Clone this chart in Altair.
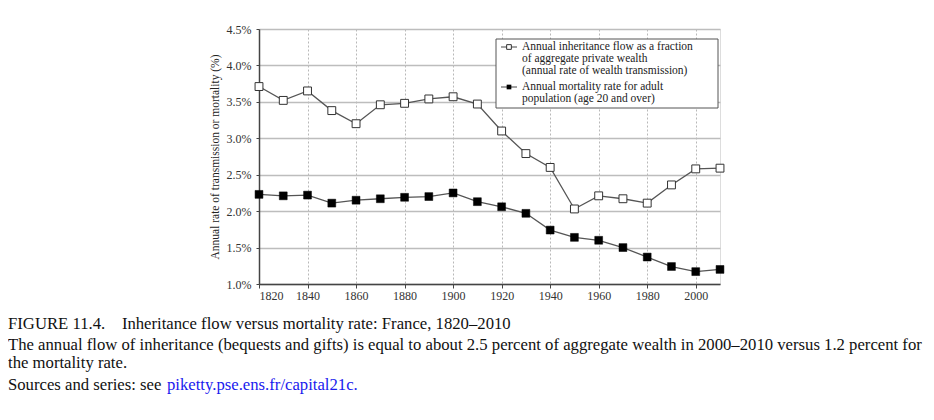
import altair as alt
import pandas as pd

years = [1820, 1830, 1840, 1850, 1860, 1870, 1880, 1890, 1900, 1910,
         1920, 1930, 1940, 1950, 1960, 1970, 1980, 1990, 2000, 2010]
inheritance = [3.71, 3.52, 3.65, 3.38, 3.20, 3.46, 3.48, 3.54, 3.57, 3.47,
               3.10, 2.79, 2.60, 2.03, 2.21, 2.17, 2.11, 2.36, 2.58, 2.59]
mortality = [2.23, 2.21, 2.22, 2.11, 2.15, 2.17, 2.19, 2.20, 2.25, 2.13,
             2.06, 1.97, 1.74, 1.64, 1.60, 1.50, 1.37, 1.24, 1.17, 1.20]
x_ticks = [1820, 1840, 1860, 1880, 1900, 1920, 1940, 1960, 1980, 2000]
y_ticks = [1.0, 1.5, 2.0, 2.5, 3.0, 3.5, 4.0, 4.5]

y_title = "Annual rate of transmission or mortality (%)"
legend_lines_1 = ["Annual inheritance flow as a fraction",
                  "of aggregate private wealth",
                  "(annual rate of wealth transmission)"]
legend_lines_2 = ["Annual mortality rate for adult",
                  "population (age 20 and over)"]
caption_1 = "FIGURE 11.4.\u00a0\u00a0\u00a0 Inheritance flow versus mortality rate: France, 1820\u20132010"
caption_2 = ("The annual flow of inheritance (bequests and gifts) is equal to about 2.5 percent "
             "of aggregate wealth in 2000\u20132010 versus 1.2 percent for")
caption_3 = "the mortality rate."
caption_4a = "Sources and series: see"
caption_4b = "piketty.pse.ens.fr/capital21c."

SERIF = "Liberation Serif"

df_inh = pd.DataFrame({"year": years, "value": inheritance})
df_mor = pd.DataFrame({"year": years, "value": mortality})

x_enc = alt.X("year:Q",
              scale=alt.Scale(domain=[1820, 2010], nice=False, zero=False),
              axis=alt.Axis(values=x_ticks, format="d", title=None,
                            grid=True, gridDash=[2, 2], gridColor="#b8b8b8",
                            labelFont=SERIF, labelFontSize=12, labelColor="#333",
                            tickSize=4, tickColor="#444", labelPadding=2,
                            domainColor="#444", domainWidth=1.5))
y_enc = alt.Y("value:Q",
              scale=alt.Scale(domain=[1.0, 4.5], nice=False, zero=False),
              axis=alt.Axis(values=y_ticks, title=y_title,
                            labelExpr="format(datum.value, '.1f') + '%'",
                            grid=True, gridColor="#bdbdbd", gridWidth=1.3,
                            labelFont=SERIF, labelFontSize=12, labelColor="#333",
                            tickSize=3, tickColor="#444", labelPadding=5,
                            titleFont=SERIF, titleFontSize=11.5, titleFontWeight="normal",
                            titleColor="#222", titlePadding=6,
                            domainColor="#444", domainWidth=1.5))

line_inh = alt.Chart(df_inh).mark_line(color="#555", strokeWidth=1.3).encode(x=x_enc, y=y_enc)
line_mor = alt.Chart(df_mor).mark_line(color="#555", strokeWidth=1.3).encode(x=x_enc, y=y_enc)
pts_inh = alt.Chart(df_inh).mark_point(shape="square", filled=True, fill="white",
                                       stroke="#333", strokeWidth=1, size=62,
                                       opacity=1).encode(x=x_enc, y=y_enc)
pts_mor = alt.Chart(df_mor).mark_point(shape="square", filled=True, fill="black",
                                       stroke="black", strokeWidth=0.5, size=62,
                                       opacity=1).encode(x=x_enc, y=y_enc)

one = alt.Data(values=[{}])

def text(t, x, y, size=12, color="#222", font=SERIF, baseline="middle"):
    return alt.Chart(one).mark_text(text=t, align="left", baseline=baseline,
                                    font=font, fontSize=size, color=color).encode(
        x=alt.value(x), y=alt.value(y))

# legend box
leg_box = alt.Chart(one).mark_rect(fill="white", stroke="#555", strokeWidth=1).encode(
    x=alt.value(237), x2=alt.value(459), y=alt.value(10), y2=alt.value(79))
leg_rule1 = alt.Chart(one).mark_rule(color="#444", strokeWidth=1).encode(
    x=alt.value(242), x2=alt.value(258), y=alt.value(18))
leg_rule2 = alt.Chart(one).mark_rule(color="#444", strokeWidth=1).encode(
    x=alt.value(242), x2=alt.value(258), y=alt.value(58))
leg_sym1 = alt.Chart(one).mark_point(shape="square", filled=True, fill="white",
                                     stroke="#333", strokeWidth=1, size=22,
                                     opacity=1).encode(x=alt.value(250), y=alt.value(18))
leg_sym2 = alt.Chart(one).mark_point(shape="square", filled=True, fill="black",
                                     size=22, opacity=1).encode(x=alt.value(250), y=alt.value(58))

legend_layers = [leg_box, leg_rule1, leg_rule2, leg_sym1, leg_sym2]
for i, t in enumerate(legend_lines_1):
    legend_layers.append(text(t, 263, 18 + 12 * i, size=11.5))
for i, t in enumerate(legend_lines_2):
    legend_layers.append(text(t, 263, 58 + 12 * i, size=11.5))

cap_font = "Liberation Serif"
cs = 16.7
captions = [
    text(caption_1, -251, 300, size=cs, color="#111", font=cap_font, baseline="alphabetic"),
    text(caption_2, -251, 321, size=cs, color="#111", font=cap_font, baseline="alphabetic"),
    text(caption_3, -251, 339, size=cs, color="#111", font=cap_font, baseline="alphabetic"),
    text(caption_4a, -251, 361, size=cs, color="#111", font=cap_font, baseline="alphabetic"),
    text(caption_4b, -92, 361, size=cs, color="#1a1aee", font=cap_font, baseline="alphabetic"),
]

chart = alt.layer(line_inh, line_mor, pts_inh, pts_mor, *legend_layers, *captions).properties(
    width=461, height=255,
    autosize=alt.AutoSizeParams(type="none"),
    padding={"left": 251, "top": 21, "right": 206, "bottom": 128},
).configure_view(stroke="#666", strokeWidth=1.5).configure(background="white")

chart.save("out.html", embed_options={"renderer": "svg", "actions": False})
